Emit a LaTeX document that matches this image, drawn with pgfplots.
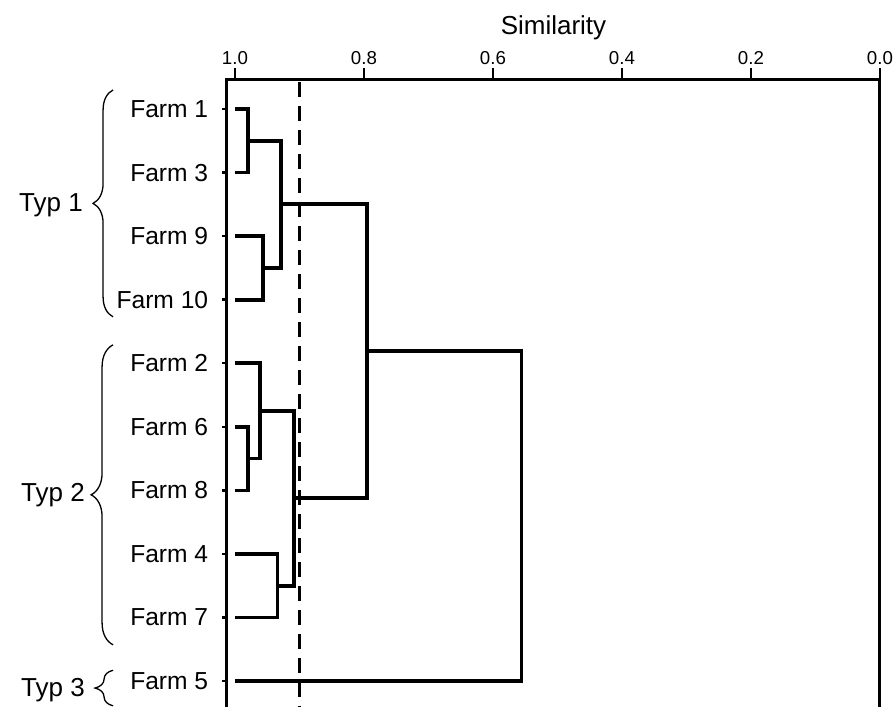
\documentclass[border=0pt]{standalone}
\usepackage{pgfplots}
\pgfplotsset{compat=1.18}
\usepackage{fontspec}
\setmainfont{Liberation Sans}
\usetikzlibrary{decorations.pathreplacing}
\tikzset{dend/.style={black, line width=3.7pt, line join=miter, mark=none}}
\begin{document}
\begin{tikzpicture}
\begin{axis}[
  name=ax,
  scale only axis,
  width=653pt, height=633pt,
  x dir=reverse, y dir=reverse,
  xmin=0, xmax=1.0124,
  ymin=-0.472, ymax=9.487,
  axis line style={line width=3pt},
  tick align=outside,
  xtick pos=top, xticklabel pos=top,
  ytick pos=left,
  xtick={0,0.2,0.4,0.6,0.8,1},
  xticklabels={0.0,0.2,0.4,0.6,0.8,1.0},
  xticklabel style={font=\fontsize{18.7}{22}\selectfont, yshift=6.7pt},
  xtick style={line width=2.5pt, black, /pgfplots/major tick length=11pt},
  ytick={0,1,2,3,4,5,6,7,8,9},
  yticklabels={Farm 1, Farm 3, Farm 9, Farm 10, Farm 2, Farm 6, Farm 8, Farm 4, Farm 7, Farm 5},
  yticklabel style={font=\fontsize{24.6}{28}\selectfont, xshift=-11pt},
  ytick style={line width=2.5pt, black, /pgfplots/major tick length=5pt},
  clip=false,
]
% dendrogram links
\addplot[dend] coordinates {(1,0) (0.98,0) (0.98,1) (1,1)};
\addplot[dend] coordinates {(1,2) (0.957,2) (0.957,3) (1,3)};
\addplot[dend] coordinates {(0.98,0.5) (0.929,0.5) (0.929,2.5) (0.957,2.5)};
\addplot[dend] coordinates {(1,5) (0.98,5) (0.98,6) (1,6)};
\addplot[dend] coordinates {(1,4) (0.961,4) (0.961,5.5) (0.98,5.5)};
\addplot[dend] coordinates {(1,7) (0.934,7) (0.934,8) (1,8)};
\addplot[dend] coordinates {(0.961,4.75) (0.908,4.75) (0.908,7.5) (0.934,7.5)};
\addplot[dend] coordinates {(0.929,1.5) (0.795,1.5) (0.795,6.125) (0.908,6.125)};
\addplot[dend] coordinates {(0.795,3.8125) (0.556,3.8125) (0.556,9) (1,9)};
% cut-off line
\addplot[black, mark=none, line width=3.7pt, dash pattern=on 15pt off 9pt] coordinates {(0.9,-0.43) (0.9,9.487)};
% group braces
\draw[decorate, decoration={brace, amplitude=20pt}, line width=1.3pt] (axis cs:1.189,3.27) -- (axis cs:1.189,-0.30);
\draw[decorate, decoration={brace, amplitude=22pt}, line width=1.3pt] (axis cs:1.189,8.43) -- (axis cs:1.189,3.71);
\draw[decorate, decoration={brace, amplitude=18pt}, line width=1.3pt] (axis cs:1.189,9.39) -- (axis cs:1.189,8.83);
\node[anchor=base east, inner sep=0pt, font=\fontsize{26}{30}\selectfont] at (axis cs:1.2357,1.62) {Typ 1};
\node[anchor=base east, inner sep=0pt, font=\fontsize{26}{30}\selectfont] at (axis cs:1.2326,6.18) {Typ 2};
\node[anchor=base east, inner sep=0pt, font=\fontsize{26}{30}\selectfont] at (axis cs:1.2326,9.25) {Typ 3};
\end{axis}
\node[anchor=base, font=\fontsize{26}{30}\selectfont] at ([yshift=44pt]ax.north) {Similarity};
\pgfresetboundingbox
\path ([shift={(-227pt,79pt)}]ax.north west) rectangle ([shift={(15pt,5pt)}]ax.south east);
\end{tikzpicture}
\end{document}
